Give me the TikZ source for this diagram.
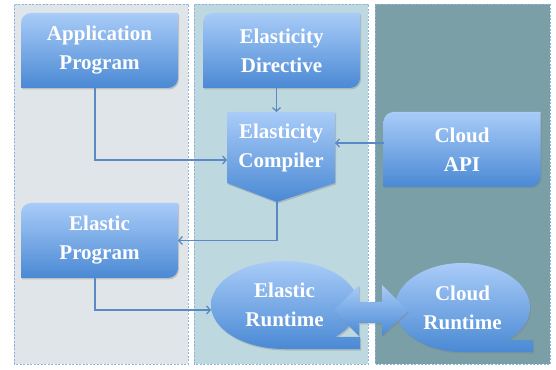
\documentclass[tikz,border=0pt]{standalone}
\usepackage{fontspec}
\setmainfont{Liberation Serif}
\usetikzlibrary{arrows.meta,shapes.geometric,shadows,backgrounds}

\definecolor{panelA}{HTML}{DFE5E8}
\definecolor{panelB}{HTML}{BED8DF}
\definecolor{panelC}{HTML}{7A9FA6}
\definecolor{panelline}{HTML}{8DB3DF}
\definecolor{boxtop}{HTML}{A9CCF8}
\definecolor{boxbot}{HTML}{4A89D4}
\definecolor{wire}{HTML}{5A8AC6}

\begin{document}
\begin{tikzpicture}[x=1pt,y=1pt,
	panel/.style={dash pattern=on 2pt off 1.5pt,draw=panelline,line width=0.7pt},
	boxtext/.style={text=white,font=\fontsize{21}{29}\selectfont\bfseries,align=center,inner sep=0pt,outer sep=0pt},
	boxnode/.style={boxtext,minimum width=157pt,minimum height=75pt},
	oval/.style={boxtext,ellipse},
	blob/.style={top color=boxtop,bottom color=boxbot,drop shadow={shadow xshift=1pt,shadow yshift=-1.5pt,opacity=0.35}},
	conn/.style={draw=wire,line width=1.3pt,-{Straight Barb[length=3.5pt,width=8pt]}}]
	\useasboundingbox (0,0) rectangle (556,369);

	\node[boxnode] (app) at (99.5,318.5) {Application\\Program};
	\node[boxnode] (dir) at (281.5,318.5) {Elasticity\\Directive};
	\node[boxtext,minimum width=108pt,minimum height=71pt] (comp) at (281,221.5) {Elasticity\\Compiler};
	\coordinate (comptip) at ([xshift=-4pt,yshift=-19pt]comp.south);
	\node[boxnode] (api) at (462,219.5) {Cloud\\API};
	\node[boxnode] (prog) at (99.5,128.5) {Elastic\\Program};
	\node[oval,minimum width=147pt,minimum height=88pt] (rt) at (284.5,64) {Elastic\\Runtime};
	\node[oval,minimum width=135pt,minimum height=89pt] (crt) at (462.5,61.5) {Cloud\\Runtime};

	\begin{scope}[on background layer]
		\path[panel,fill=panelA] (14,5) rectangle (188,365);
		\path[panel,fill=panelB] (194,5) rectangle (368,365);
		\path[panel,fill=panelC] (375,5) rectangle (550,365);
		\foreach \n in {app,dir,api,prog}
			\path[blob] (\n.south west) -- ([yshift=-10pt]\n.north west) arc[start angle=180,end angle=90,radius=10pt]
				-- (\n.north east) -- ([yshift=10pt]\n.south east) arc[start angle=0,end angle=-90,radius=10pt] -- cycle;
		\path[blob] (comp.north west) -- (comp.north east) -- (comp.south east) -- (comptip) -- (comp.south west) -- cycle;
		\foreach \n/\rx/\ry/\t in {rt/73.5/44/2,crt/67.5/44.5/3}
			\path[blob] (\n.south) arc[start angle=-90,end angle=270,x radius=\rx pt,y radius=\ry pt] -- cycle
				(\n.south) -- ([xshift=\t pt]\n.east |- \n.south) -- ([xshift=\t pt,yshift=12pt]\n.east |- \n.south)
				-- ([yshift=12pt]\n.south) -- cycle;
	\end{scope}

	\path[blob] (334,58) -- (359,84) -- (359,67) -- (382,67) -- (382,84) -- (408,58)
		-- (382,33) -- (382,46) -- (359,46) -- (359,33) -- cycle;

	\draw[conn] ([xshift=-4.5pt]app.south) |- ([yshift=-12.5pt]comp.west);
	\draw[conn] ([xshift=-5pt]dir.south) -- ([xshift=-5pt]dir.south |- comp.north);
	\draw[conn] ([yshift=6.5pt]api.west) -- ([yshift=6.5pt]api.west -| comp.east);
	\draw[conn] (comptip) |- (prog.east);
	\draw[conn] ([xshift=-4.5pt]prog.south) |- ([yshift=-5pt]rt.west);
\end{tikzpicture}
\end{document}
